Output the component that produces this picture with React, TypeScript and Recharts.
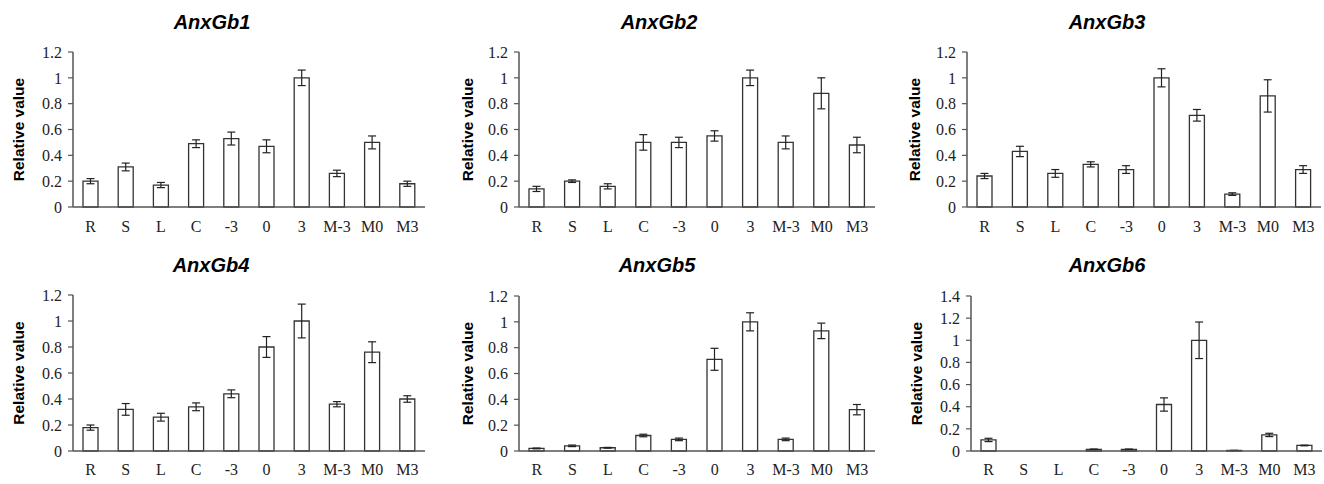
import React from 'react';
import { BarChart, Bar, XAxis, YAxis, ErrorBar } from 'recharts';

const categories = ['R', 'S', 'L', 'C', '-3', '0', '3', 'M-3', 'M0', 'M3'];
const yTicks = [0, 0.2, 0.4, 0.6, 0.8, 1, 1.2];
const yTicks6 = [0, 0.2, 0.4, 0.6, 0.8, 1, 1.2, 1.4];

const titles = ['AnxGb1', 'AnxGb2', 'AnxGb3', 'AnxGb4', 'AnxGb5', 'AnxGb6'];

const anxGb1Values = [0.2, 0.31, 0.17, 0.49, 0.53, 0.47, 1.0, 0.26, 0.5, 0.18];
const anxGb1Errors = [0.02, 0.03, 0.02, 0.03, 0.05, 0.05, 0.06, 0.025, 0.05, 0.02];

const anxGb2Values = [0.14, 0.2, 0.16, 0.5, 0.5, 0.55, 1.0, 0.5, 0.88, 0.48];
const anxGb2Errors = [0.02, 0.01, 0.02, 0.06, 0.04, 0.04, 0.06, 0.05, 0.12, 0.06];

const anxGb3Values = [0.24, 0.43, 0.26, 0.33, 0.29, 1.0, 0.71, 0.1, 0.86, 0.29];
const anxGb3Errors = [0.02, 0.04, 0.03, 0.02, 0.03, 0.07, 0.045, 0.01, 0.125, 0.03];

const anxGb4Values = [0.18, 0.32, 0.26, 0.34, 0.44, 0.8, 1.0, 0.36, 0.76, 0.4];
const anxGb4Errors = [0.02, 0.045, 0.03, 0.03, 0.03, 0.08, 0.13, 0.02, 0.08, 0.025];

const anxGb5Values = [0.02, 0.04, 0.025, 0.12, 0.09, 0.71, 1.0, 0.09, 0.93, 0.32];
const anxGb5Errors = [0.003, 0.006, 0.003, 0.01, 0.01, 0.085, 0.07, 0.01, 0.06, 0.04];

const anxGb6Values = [0.1, 0, 0, 0.015, 0.015, 0.42, 1.0, 0.005, 0.145, 0.05];
const anxGb6Errors = [0.015, 0, 0, 0.003, 0.003, 0.06, 0.165, 0.001, 0.015, 0.003];

const SERIF = '"Liberation Serif", "Times New Roman", serif';
const SANS = '"Liberation Sans", Arial, sans-serif';

type PanelProps = {
  title: string;
  values: number[];
  errors: number[];
  ticks: number[];
  left: number;
  top: number;
  width: number;
  height: number;
  margin: { top: number; right: number; bottom: number; left: number };
  yWidth: number;
  xHeight: number;
  xTickMargin: number;
  titleX: number;
  titleY: number;
  labelOffset: number;
};

function Panel(p: PanelProps) {
  const data = categories.map((c, i) => ({ cat: c, value: p.values[i], err: p.errors[i] }));
  const max = p.ticks[p.ticks.length - 1];
  const frame = { stroke: '#555', strokeWidth: 1.5 };
  return (
    <div style={{ position: 'absolute', left: p.left, top: p.top, width: p.width, height: p.height }}>
      <BarChart width={p.width} height={p.height} data={data} margin={p.margin}>
        <XAxis
          dataKey="cat"
          height={p.xHeight}
          tickLine={false}
          tickSize={6}
          tickMargin={p.xTickMargin}
          axisLine={frame}
          interval={0}
          tick={{ fontFamily: SERIF, fontSize: 16, fill: '#222' }}
        />
        <XAxis
          xAxisId="top"
          dataKey="cat"
          orientation="top"
          height={0}
          tick={false}
          tickLine={false}
          axisLine={frame}
        />
        <YAxis
          domain={[0, max]}
          ticks={p.ticks}
          width={p.yWidth}
          tickSize={5}
          tickMargin={6}
          tickLine={{ stroke: '#555', strokeWidth: 1.2 }}
          axisLine={frame}
          interval={0}
          tick={{ fontFamily: SERIF, fontSize: 16, fill: '#222' }}
          label={{
            value: 'Relative value',
            angle: -90,
            position: 'insideLeft',
            offset: p.labelOffset,
            style: { textAnchor: 'middle', fontFamily: SANS, fontWeight: 'bold', fontSize: 15.5, fill: '#000' },
          }}
        />
        <YAxis
          yAxisId="right"
          orientation="right"
          width={0}
          domain={[0, max]}
          tick={false}
          tickLine={false}
          axisLine={frame}
        />
        <Bar dataKey="value" fill="#fff" stroke="#333" strokeWidth={1.3} barSize={15} isAnimationActive={false}>
          <ErrorBar dataKey="err" width={4} stroke="#222" strokeWidth={1.2} />
        </Bar>
      </BarChart>
      <div
        style={{
          position: 'absolute',
          left: p.titleX - 100,
          top: p.titleY - 14,
          width: 200,
          height: 28,
          lineHeight: '28px',
          textAlign: 'center',
          fontFamily: SANS,
          fontStyle: 'italic',
          fontWeight: 'bold',
          fontSize: 20,
          color: '#000',
        }}
      >
        {p.title}
      </div>
    </div>
  );
}

export default function App() {
  const panels: PanelProps[] = [
    {
      title: titles[0], values: anxGb1Values, errors: anxGb1Errors, ticks: yTicks,
      left: 0, top: 0, width: 440, height: 242,
      margin: { top: 52, right: 15, bottom: 0, left: 0 }, yWidth: 73, xHeight: 35, xTickMargin: 8,
      titleX: 212, titleY: 22, labelOffset: 18,
    },
    {
      title: titles[1], values: anxGb2Values, errors: anxGb2Errors, ticks: yTicks,
      left: 440, top: 0, width: 440, height: 242,
      margin: { top: 52, right: 5, bottom: 0, left: 0 }, yWidth: 79, xHeight: 35, xTickMargin: 8,
      titleX: 219, titleY: 22, labelOffset: 27,
    },
    {
      title: titles[2], values: anxGb3Values, errors: anxGb3Errors, ticks: yTicks,
      left: 880, top: 0, width: 444, height: 242,
      margin: { top: 52, right: 3, bottom: 0, left: 0 }, yWidth: 87, xHeight: 35, xTickMargin: 8,
      titleX: 227, titleY: 22, labelOffset: 34,
    },
    {
      title: titles[3], values: anxGb4Values, errors: anxGb4Errors, ticks: yTicks,
      left: 0, top: 242, width: 440, height: 242,
      margin: { top: 53, right: 15, bottom: 0, left: 0 }, yWidth: 73, xHeight: 33, xTickMargin: 7,
      titleX: 211, titleY: 23, labelOffset: 18,
    },
    {
      title: titles[4], values: anxGb5Values, errors: anxGb5Errors, ticks: yTicks,
      left: 440, top: 242, width: 440, height: 242,
      margin: { top: 54, right: 5, bottom: 0, left: 0 }, yWidth: 79, xHeight: 33, xTickMargin: 7,
      titleX: 217, titleY: 23, labelOffset: 27,
    },
    {
      title: titles[5], values: anxGb6Values, errors: anxGb6Errors, ticks: yTicks6,
      left: 880, top: 242, width: 444, height: 242,
      margin: { top: 54, right: 2, bottom: 0, left: 0 }, yWidth: 91, xHeight: 33, xTickMargin: 7,
      titleX: 227, titleY: 23, labelOffset: 36,
    },
  ];
  return (
    <div style={{ position: 'absolute', left: 0, top: 0, width: 1324, height: 484, background: '#fff' }}>
      {panels.map((p) => (
        <Panel key={p.title} {...p} />
      ))}
    </div>
  );
}
